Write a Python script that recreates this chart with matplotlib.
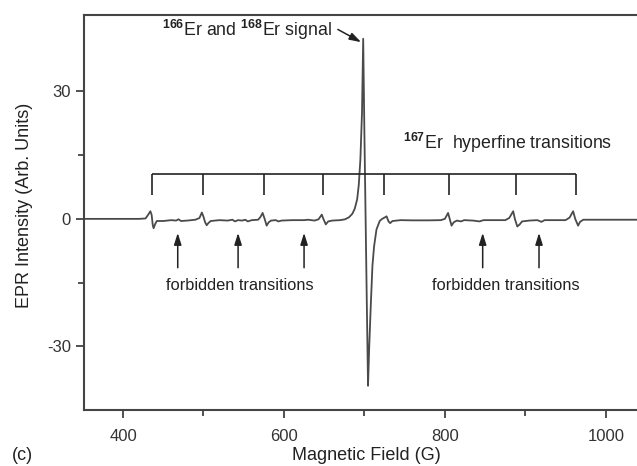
import numpy as np
import matplotlib
matplotlib.use("Agg")
import matplotlib.pyplot as plt

plt.rcParams["font.family"] = ["Liberation Sans", "DejaVu Sans"]
plt.rcParams["mathtext.fontset"] = "custom"
plt.rcParams["mathtext.rm"] = "Liberation Sans"
plt.rcParams["mathtext.bf"] = "Liberation Sans:bold"
plt.rcParams["axes.unicode_minus"] = False

# EPR spectrum (field in G, intensity in arb. units)
field = [
    352, 420, 428, 431, 434, 435.5, 437, 438, 440, 442, 450, 460, 466, 469, 472,
    480, 490, 495, 498, 500, 502, 504, 506, 509, 520, 530, 536, 539, 543, 548,
    552, 555, 560, 568, 571, 573.5, 576, 578.5, 581, 584, 590, 593, 597, 610,
    625, 630, 638, 643, 647, 649, 652, 655, 660, 670, 676, 681, 685, 688, 691,
    693, 695, 697, 698.5, 700, 701.5, 703, 704.5, 706, 708, 710, 712, 715, 719,
    722, 725, 727.5, 730, 732, 735, 745, 760, 780, 795, 800, 804, 806, 808.3,
    811, 815, 820, 824, 835, 843, 848, 860, 875, 880, 884.9, 887, 890, 893, 896,
    905, 915, 920, 924, 935, 950, 955, 959.4, 962, 965.6, 968, 972, 990, 1045,
]
intensity = [
    0, 0, 0.1, 0.9, 1.8, 1.0, -1.5, -2.2, -1.2, -0.5, -0.5, -0.3, -0.4, -0.1, -0.5,
    -0.4, -0.2, 0.2, 1.5, 0.5, -0.8, -1.5, -1.0, -0.5, -0.3, -0.4, -0.2, -0.6, -0.3, -0.4,
    -0.2, -0.6, -0.3, -0.2, 0.5, 1.4, 0.0, -1.6, -0.8, -0.4, -0.3, -0.6, -0.4, -0.3,
    -0.3, -0.2, -0.4, -0.1, 1.0, 0.0, -1.3, -0.6, -0.4, -0.3, -0.1, 0.4, 1.2, 2.4, 4.6,
    8.0, 14, 25, 42.4, 20, 0, -20, -39.3, -30, -20, -11, -6.5, -2.5, -0.5,
    0.0, 0.3, 0.6, -0.6, -1.0, -0.5, -0.3, -0.35, -0.35, -0.3, 0.0, 1.4, 0.0, -1.6,
    -0.8, -0.4, -0.6, -0.3, -0.4, -0.6, -0.3, -0.3, -0.3, 0.2, 1.8, 0.0, -1.8, -1.3, -0.6,
    -0.4, -0.3, -0.7, -0.3, -0.3, -0.3, 0.3, 1.8, 0.0, -1.6, -0.7, -0.2, -0.2, -0.2,
]

# 167Er hyperfine comb positions and forbidden-transition arrows
hyperfine = [436, 500, 575, 648, 724, 805, 888, 963]
forbidden_left = [468, 543, 625]
forbidden_right = [847, 917]

fig = plt.figure(figsize=(6.37, 4.66), dpi=100)
ax = fig.add_axes([84 / 637, 56 / 466, 558 / 637, 395 / 466])

ax.plot(field, intensity, color="#4a4a4a", linewidth=1.3)

# comb
comb_y, comb_bottom = 10.6, 5.6
ax.hlines(comb_y, hyperfine[0], hyperfine[-1], color="#222222", linewidth=1.2)
ax.vlines(hyperfine, comb_bottom, comb_y, color="#222222", linewidth=1.2)

arrow_kw = dict(arrowstyle="-|>,head_length=0.7,head_width=0.22", color="#222222",
                linewidth=1.1, shrinkA=0, shrinkB=0)
for x in forbidden_left + forbidden_right:
    ax.annotate("", xy=(x, -3.3), xytext=(x, -11.5), arrowprops=arrow_kw)

ax.text(545, -15.8, "forbidden transitions", ha="center", va="center",
        fontsize=11.8, color="#222222")
ax.text(876, -15.8, "forbidden transitions", ha="center", va="center",
        fontsize=11.8, color="#222222")

ax.text(449, 44.4, r"$^{\mathbf{166}}$Er and $^{\mathbf{168}}$Er signal",
        ha="left", va="center", fontsize=12.8, color="#222222")
ax.annotate("", xy=(696, 41.6), xytext=(667, 44.6), arrowprops=arrow_kw)
ax.text(748, 17.8, r"$^{\mathbf{167}}$Er  hyperfine transitions",
        ha="left", va="center", fontsize=12.8, color="#222222")

ax.set_xlim(351.5, 1045)
ax.set_ylim(-45, 48)
ax.set_xticks([400, 600, 800, 1000])
ax.set_xticks([500, 700, 900], minor=True)
ax.set_yticks([-30, 0, 30])
ax.set_yticks([-15, 15], minor=True)
ax.tick_params(which="both", direction="out", colors="#333333", labelsize=12,
               width=1.2)
ax.tick_params(which="major", length=6)
ax.tick_params(which="minor", length=4)
ax.tick_params(axis="x", pad=8)
for s in ax.spines.values():
    s.set_color("#444444")
    s.set_linewidth(1.5)

fig.text(366 / 637, 1 - 455 / 466, "Magnetic Field (G)", ha="center", va="center",
         fontsize=13, color="#222222")
fig.text(25 / 637, 1 - 205 / 466, "EPR Intensity (Arb. Units)", ha="center",
         va="center", rotation=90, fontsize=13, color="#222222")
fig.text(22 / 637, 1 - 455 / 466, "(c)", ha="center", va="center",
         fontsize=13, color="#222222")

fig.savefig("out.png", dpi=100)
